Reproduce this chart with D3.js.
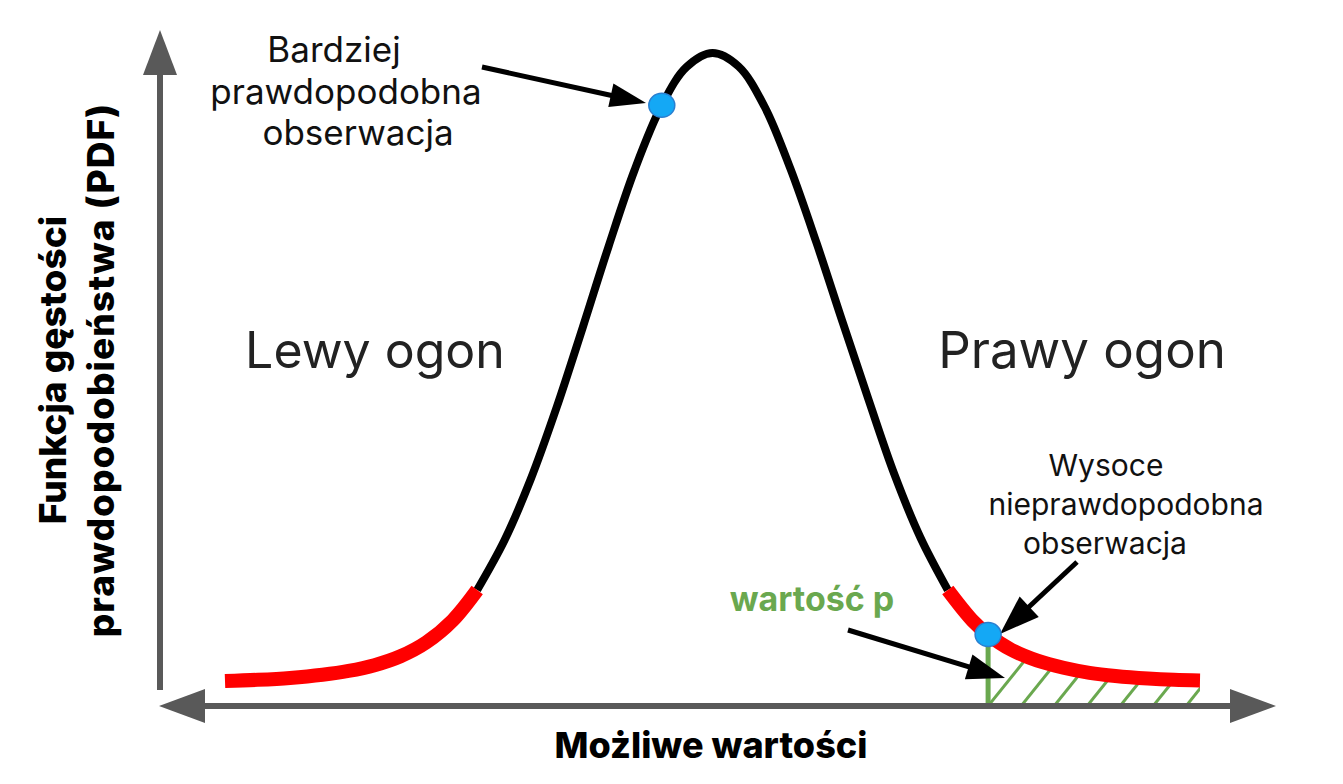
<!DOCTYPE html>
<html><head><meta charset="utf-8">
<script src="https://cdn.jsdelivr.net/npm/d3@7/dist/d3.min.js"></script>
<style>
html,body{margin:0;padding:0;background:#fff;}
svg{display:block;}
text{font-family:Inter, "Noto Sans", sans-serif;}
</style></head>
<body>
<svg id="chart" width="1343" height="784"></svg>
<script>
// ---- data ----
const xValues = [-3.75,-3.5,-3.25,-3.0,-2.8,-2.6,-2.4,-2.2,-2.0,-1.81,-1.6,-1.4,-1.2,-1.0,-0.8,-0.6,-0.39,-0.2,0,0.2,0.4,0.6,0.8,1.0,1.2,1.4,1.6,1.81,2.0,2.12,2.3,2.5,2.7,2.9,3.1,3.35,3.55,3.75];
const density = [1.4,1.6,1.9,2.4,3.0,3.9,5.3,7.5,10.9,15.7,23.5,33.0,44.3,56.8,69.6,81.6,91.8,97.8,100,97.9,91.6,81.8,70.2,57.8,45.6,33.8,23.9,15.7,10.9,8.7,6.3,4.6,3.5,2.7,2.2,1.8,1.6,1.5];
const leftTailEnd = -1.81;
const rightTailStart = 1.81;
const likelyObs = -0.39;
const unlikelyObs = 2.12;
const labels = {
  likely: ["Bardziej","prawdopodobna","obserwacja"],
  unlikely: ["Wysoce","nieprawdopodobna","obserwacja"],
  left: "Lewy ogon", right: "Prawy ogon",
  pval: "wartość p",
  xTitle: "Możliwe wartości",
  yTitle: ["Funkcja gęstości","prawdopodobieństwa (PDF)"]
};

const svg = d3.select("#chart");
const x = d3.scaleLinear().domain([-3.75, 3.75]).range([225, 1200]);
const y = d3.scaleLinear().domain([0, 100]).range([690, 53]);
const pts = xValues.map((v,i)=>({x:v, y:density[i]}));
const at = v => pts.find(p=>Math.abs(p.x-v)<1e-9);

const axisColor = "#595959";
const green = "#6aa84f";
const baseY = 706;

function arrowHead(tip, from, len, half){
  const dx = tip[0]-from[0], dy = tip[1]-from[1];
  const L = Math.hypot(dx,dy), ux = dx/L, uy = dy/L;
  const bx = tip[0]-ux*len, by = tip[1]-uy*len;
  const p = [tip, [bx - uy*half, by + ux*half], [bx + uy*half, by - ux*half]];
  return {poly: p.map(q=>q.join(",")).join(" "), base:[bx+ux*2, by+uy*2]};
}
function arrow(from, tip, len, half, width, color){
  const h = arrowHead(tip, from, len, half);
  svg.append("line").attr("x1",from[0]).attr("y1",from[1]).attr("x2",h.base[0]).attr("y2",h.base[1])
    .attr("stroke",color).attr("stroke-width",width);
  svg.append("polygon").attr("points",h.poly).attr("fill",color);
}

const curve = d3.curveCatmullRom.alpha(0.5);

// hatched area under the right tail
const hatchPts = pts.filter(p=>p.x>=unlikelyObs-1e-9);
const area = d3.area().x(d=>x(d.x)).y0(baseY-3).y1(d=>y(d.y)).curve(curve);
svg.append("clipPath").attr("id","hclip").append("path").attr("d", area(hatchPts));
const hg = svg.append("g").attr("clip-path","url(#hclip)");
const step = 33/130;
for(let v = unlikelyObs; v < 3.9; v += step){
  const bx = x(v);
  hg.append("line").attr("x1",bx).attr("y1",baseY).attr("x2",bx+45).attr("y2",baseY-56)
    .attr("stroke",green).attr("stroke-width",3);
}
// green vertical line at observation
svg.append("line").attr("x1",x(unlikelyObs)).attr("x2",x(unlikelyObs))
  .attr("y1",y(at(unlikelyObs).y)).attr("y2",baseY-2)
  .attr("stroke",green).attr("stroke-width",5);

// axes
svg.append("line").attr("x1",200).attr("x2",1232).attr("y1",baseY).attr("y2",baseY)
  .attr("stroke",axisColor).attr("stroke-width",6);
svg.append("polygon").attr("points",`159,${baseY} 205,${baseY-17} 205,${baseY+17}`).attr("fill",axisColor);
svg.append("polygon").attr("points",`1276,${baseY} 1230,${baseY-17} 1230,${baseY+17}`).attr("fill",axisColor);
svg.append("line").attr("x1",160).attr("x2",160).attr("y1",72).attr("y2",690)
  .attr("stroke",axisColor).attr("stroke-width",6);
svg.append("polygon").attr("points",`160,30 143,75 177,75`).attr("fill",axisColor);

// curve
const line = d3.line().x(d=>x(d.x)).y(d=>y(d.y)).curve(curve);
const body = pts.filter(p=>p.x>=leftTailEnd-1e-9 && p.x<=rightTailStart+1e-9);
const leftT = pts.filter(p=>p.x<=leftTailEnd+1e-9);
const rightT = pts.filter(p=>p.x>=rightTailStart-1e-9);
svg.append("path").attr("d",line(body)).attr("fill","none").attr("stroke","#000").attr("stroke-width",8);
[leftT,rightT].forEach(seg=>{
  svg.append("path").attr("d",line(seg)).attr("fill","none").attr("stroke","#ff0000")
    .attr("stroke-width",14).attr("stroke-linecap","butt");
});

// annotation arrows
arrow([482,67],[646,103],36,12,5,"#000");
arrow([1077,562],[1000,634],40,14,5,"#000");
arrow([848,630],[1005,678],38,13,5,"#000");

// dots
[likelyObs, unlikelyObs].forEach(v=>{
  const p = at(v);
  svg.append("ellipse").attr("cx",x(p.x)).attr("cy",y(p.y)).attr("rx",13).attr("ry",12)
    .attr("fill","#14a8f5").attr("stroke","#2a7fd0").attr("stroke-width",1.5);
});

// texts
function multi(lines, xs, y0, dy, size){
  const t = svg.append("text").attr("text-anchor","middle").attr("font-size",size).attr("fill","#111");
  lines.forEach((s,i)=>t.append("tspan").attr("x",xs[i]).attr("y",y0+i*dy).text(s));
}
multi(labels.likely, [334,346,358], 62, 41.5, 35);
multi(labels.unlikely, [1106,1126,1105], 476, 39, 30);
svg.append("text").attr("x",375).attr("y",368).attr("text-anchor","middle").attr("font-size",50).attr("fill","#222").text(labels.left);
svg.append("text").attr("x",1082).attr("y",368).attr("text-anchor","middle").attr("font-size",51).attr("fill","#222").text(labels.right);
svg.append("text").attr("x",812).attr("y",611).attr("text-anchor","middle").attr("font-size",34).attr("font-weight",700).attr("fill",green).text(labels.pval);
svg.append("text").attr("x",711).attr("y",758).attr("text-anchor","middle").attr("font-size",36).attr("font-weight",800).attr("fill","#000").text(labels.xTitle);
const yt = svg.append("text").attr("transform","translate(0,370) rotate(-90)").attr("text-anchor","middle")
  .attr("font-weight",800).attr("fill","#000");
yt.append("tspan").attr("x",0).attr("y",66).attr("font-size",37).text(labels.yTitle[0]);
yt.append("tspan").attr("x",0).attr("y",114).attr("font-size",37).attr("letter-spacing",1).text(labels.yTitle[1]);
</script>
</body></html>
